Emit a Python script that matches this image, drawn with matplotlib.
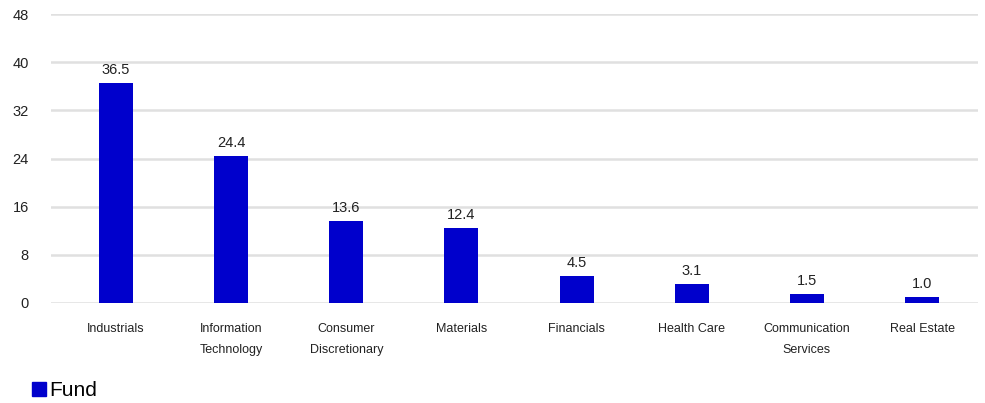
import matplotlib
matplotlib.use("Agg")
import matplotlib.pyplot as plt
from matplotlib.patches import Patch

categories = ["Industrials", "Information\nTechnology", "Consumer\nDiscretionary", "Materials",
              "Financials", "Health Care", "Communication\nServices", "Real Estate"]
values = [36.5, 24.4, 13.6, 12.4, 4.5, 3.1, 1.5, 1.0]
yticks = [0, 8, 16, 24, 32, 40, 48]
series_name = "Fund"

plt.rcParams['font.family'] = ['Liberation Sans', 'DejaVu Sans']
bar_color = "#0000CC"

fig = plt.figure(figsize=(9.85, 4.03), dpi=100)
ax = fig.add_axes([51/985, 100/403, 927/985, 289/403])

x = list(range(len(categories)))
bars = ax.bar(x, values, width=0.295, color=bar_color, zorder=3)
for xi, v in zip(x, values):
    ax.annotate(f"{v:.1f}", (xi, v), xytext=(0, 4.5), textcoords="offset points",
                ha="center", va="bottom", fontsize=10.5, color="#222222")

ax.set_ylim(0, 48)
ax.set_xlim(-0.565, 7.486)
ax.set_yticks(yticks)
ax.set_yticklabels([str(t) for t in yticks])
ax.set_xticks(x)
ax.set_xticklabels(categories, fontsize=9, color="#222222", linespacing=1.95)
ax.tick_params(axis="y", length=0, pad=16, labelsize=10.5, labelcolor="#222222")
ax.tick_params(axis="x", length=0, pad=14.5)
ax.grid(axis="y", color="#E0E0E0", linewidth=1.8, zorder=0)
for s in ax.spines.values():
    s.set_visible(False)

fig.legend(handles=[Patch(color=bar_color, label=series_name)], loc="lower left",
           bbox_to_anchor=(18/985, -11/403), frameon=False, fontsize=15,
           handlelength=0.7, handleheight=0.7, handletextpad=0.15, borderpad=0.15)

fig.savefig("out.png", dpi=100)
